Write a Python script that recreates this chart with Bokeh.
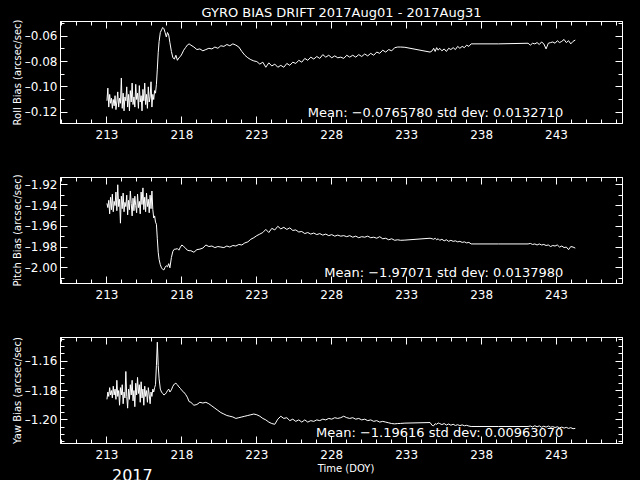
from bokeh.plotting import figure
from bokeh.layouts import column
from bokeh.models import Range1d, LinearAxis, FixedTicker, Label, Title, CustomJSTickFormatter, Div
from bokeh.embed import file_html
from bokeh.resources import INLINE

TITLE = "GYRO BIAS DRIFT 2017Aug01 - 2017Aug31"
YEAR = "2017"
X_LABEL = "Time (DOY)"
X_MAJOR = [213, 218, 223, 228, 233, 238, 243]
X_MINOR = list(range(209, 249))

# common sample times (day of year), shared by the three gyro axes
doy = [
    213.00, 213.06, 213.12, 213.18, 213.24, 213.30, 213.36, 213.42, 213.48, 213.54,
    213.60, 213.66, 213.72, 213.78, 213.84, 213.90, 213.96, 214.02, 214.08, 214.14,
    214.20, 214.26, 214.32, 214.38, 214.44, 214.50, 214.56, 214.62, 214.68, 214.74,
    214.80, 214.86, 214.92, 214.98, 215.04, 215.10, 215.16, 215.22, 215.28, 215.34,
    215.40, 215.46, 215.52, 215.58, 215.64, 215.70, 215.76, 215.82, 215.88, 215.94,
    216.00, 216.06, 216.12, 216.18, 216.24,
    216.30, 216.36, 216.42, 216.48, 216.56, 216.64, 216.72, 216.80, 216.88, 216.96,
    217.04, 217.12, 217.20, 217.30, 217.40, 217.50, 217.60, 217.70, 217.80, 217.90,
    218.00, 218.12, 218.24, 218.36, 218.48,
    218.60, 218.80, 219.00, 219.20, 219.40, 219.60, 219.80, 220.00, 220.20, 220.40,
    220.60, 220.80, 221.00, 221.20, 221.40, 221.60, 221.80, 222.00, 222.20, 222.40,
    222.60, 222.80, 223.00, 223.20, 223.40, 223.60, 223.80, 224.00, 224.20, 224.40,
    224.60, 224.80, 225.00, 225.20, 225.40, 225.60, 225.80, 226.00, 226.20, 226.40,
    226.60, 226.80, 227.00, 227.20, 227.40, 227.60, 227.80, 228.00, 228.20, 228.40,
    228.60, 228.80, 229.00, 229.20, 229.40, 229.60, 229.80, 230.00, 230.20, 230.40,
    230.60, 230.80, 231.00, 231.20, 231.40, 231.60, 231.80, 232.00, 232.20, 232.40,
    232.60,
    232.88,
    234.56, 234.70, 234.80, 234.90, 235.00, 235.10, 235.20, 235.35, 235.50, 235.65,
    235.80, 235.95, 236.10, 236.25, 236.40, 236.55, 236.70, 236.85, 237.00, 237.15,
    237.30,
    239.12,
    241.10, 241.25, 241.40, 241.55, 241.70, 241.85, 242.00, 242.15, 242.30, 242.45,
    242.60, 242.75, 242.90, 243.05, 243.20, 243.35, 243.50, 243.65, 243.80, 243.95,
    244.10, 244.25,
]

ROLL_LABEL = "Roll Bias (arcsec/sec)"
ROLL_MEAN = "Mean: \u22120.0765780 std dev: 0.0132710"
ROLL_MAJOR = [-0.12, -0.10, -0.08, -0.06]
ROLL_MINOR = [-0.13, -0.12, -0.11, -0.10, -0.09, -0.08, -0.07, -0.06, -0.05]
roll_bias = [
    -0.111, -0.101, -0.116, -0.106, -0.113, -0.109, -0.117, -0.110, -0.115, -0.107,
    -0.118, -0.112, -0.104, -0.116, -0.109, -0.113, -0.093, -0.117, -0.105, -0.119,
    -0.108, -0.111, -0.100, -0.116, -0.106, -0.119, -0.103, -0.112, -0.097, -0.114,
    -0.108, -0.116, -0.098, -0.110, -0.105, -0.117, -0.099, -0.112, -0.107, -0.119,
    -0.102, -0.111, -0.097, -0.114, -0.106, -0.117, -0.100, -0.112, -0.108, -0.096,
    -0.116, -0.106, -0.110, -0.103, -0.105,
    -0.098, -0.086, -0.073, -0.064, -0.057, -0.055, -0.053, -0.054, -0.057, -0.0605,
    -0.057, -0.059, -0.065, -0.072, -0.077, -0.078, -0.075, -0.079, -0.077, -0.076,
    -0.074, -0.071, -0.069, -0.067, -0.066,
    -0.067, -0.0685, -0.0705, -0.070, -0.0715, -0.0705, -0.0695, -0.070, -0.0685, -0.0695,
    -0.0675, -0.068, -0.0665, -0.0675, -0.066, -0.067, -0.0685, -0.072, -0.075, -0.077,
    -0.0785, -0.0795, -0.080, -0.082, -0.0805, -0.0845, -0.081, -0.0835, -0.082, -0.0845,
    -0.083, -0.0845, -0.0815, -0.083, -0.0805, -0.0815, -0.079, -0.0805, -0.0775, -0.079,
    -0.0765, -0.078, -0.076, -0.0775, -0.0745, -0.0765, -0.075, -0.077, -0.0755, -0.077,
    -0.0765, -0.0775, -0.075, -0.0765, -0.075, -0.0765, -0.0745, -0.076, -0.074, -0.0755,
    -0.0735, -0.075, -0.0725, -0.0735, -0.071, -0.0725, -0.0705, -0.0715, -0.069, -0.0685,
    -0.0685,
    -0.0687,
    -0.0725, -0.0715, -0.0695, -0.072, -0.069, -0.071, -0.0695, -0.0715, -0.070, -0.072,
    -0.0695, -0.0705, -0.069, -0.0705, -0.068, -0.0695, -0.068, -0.069, -0.067, -0.068,
    -0.066,
    -0.066,
    -0.0655, -0.067, -0.0655, -0.066, -0.065, -0.0665, -0.0645, -0.066, -0.070, -0.0655,
    -0.065, -0.0645, -0.0655, -0.0635, -0.065, -0.064, -0.0625, -0.065, -0.0635, -0.066,
    -0.064, -0.063,
]

PITCH_LABEL = "Pitch Bias (arcsec/sec)"
PITCH_MEAN = "Mean: \u22121.97071 std dev: 0.0137980"
PITCH_MAJOR = [-2.00, -1.98, -1.96, -1.94, -1.92]
PITCH_MINOR = [-2.01, -2.00, -1.99, -1.98, -1.97, -1.96, -1.95, -1.94, -1.93, -1.92, -1.91]
pitch_bias = [
    -1.938, -1.942, -1.935, -1.948, -1.932, -1.944, -1.929, -1.946, -1.936, -1.940,
    -1.927, -1.945, -1.920, -1.941, -1.934, -1.957, -1.931, -1.943, -1.928, -1.946,
    -1.937, -1.941, -1.930, -1.949, -1.935, -1.944, -1.926, -1.938, -1.950, -1.933,
    -1.945, -1.931, -1.940, -1.947, -1.929, -1.942, -1.936, -1.948, -1.927, -1.939,
    -1.923, -1.944, -1.932, -1.946, -1.928, -1.941, -1.934, -1.947, -1.930, -1.943,
    -1.926, -1.944, -1.952, -1.950, -1.956,
    -1.958, -1.972, -1.985, -1.992, -1.997, -2.000, -2.0015, -2.002, -1.9995, -1.998,
    -1.999, -1.996, -2.000, -1.990, -1.984, -1.982, -1.982, -1.9815, -1.983, -1.980,
    -1.978, -1.9795, -1.981, -1.983, -1.9835,
    -1.9835, -1.985, -1.9825, -1.982, -1.981, -1.978, -1.9795, -1.979, -1.9805, -1.9795,
    -1.980, -1.9805, -1.979, -1.980, -1.9785, -1.979, -1.9775, -1.978, -1.976, -1.975,
    -1.9725, -1.971, -1.969, -1.9675, -1.966, -1.963, -1.966, -1.962, -1.9635, -1.960,
    -1.9625, -1.961, -1.963, -1.9615, -1.964, -1.9635, -1.9655, -1.965, -1.967, -1.966,
    -1.9675, -1.9665, -1.968, -1.967, -1.9685, -1.9675, -1.969, -1.968, -1.9695, -1.9685,
    -1.9695, -1.969, -1.970, -1.969, -1.9705, -1.9695, -1.971, -1.970, -1.9705, -1.9695,
    -1.971, -1.9705, -1.9715, -1.970, -1.972, -1.9715, -1.973, -1.972, -1.9735, -1.973,
    -1.9735,
    -1.9733,
    -1.9715, -1.972, -1.9725, -1.9715, -1.973, -1.972, -1.9735, -1.9725, -1.974, -1.973,
    -1.9745, -1.9735, -1.9745, -1.974, -1.975, -1.9745, -1.9755, -1.975, -1.976, -1.9755,
    -1.977,
    -1.977,
    -1.977, -1.9765, -1.9775, -1.977, -1.978, -1.977, -1.978, -1.9775, -1.9785, -1.978,
    -1.9795, -1.9785, -1.979, -1.978, -1.980, -1.979, -1.9805, -1.980, -1.9825, -1.9795,
    -1.980, -1.981,
]

YAW_LABEL = "Yaw Bias (arcsec/sec)"
YAW_MEAN = "Mean: \u22121.19616 std dev: 0.00963070"
YAW_MAJOR = [-1.20, -1.18, -1.16]
YAW_MINOR = [-1.215, -1.210, -1.205, -1.200, -1.195, -1.190, -1.185, -1.180, -1.175,
             -1.170, -1.165, -1.160, -1.155, -1.150, -1.145]
yaw_bias = [
    -1.186, -1.181, -1.184, -1.178, -1.183, -1.180, -1.185, -1.177, -1.183, -1.179,
    -1.186, -1.173, -1.184, -1.180, -1.190, -1.178, -1.183, -1.176, -1.189, -1.181,
    -1.185, -1.167, -1.184, -1.192, -1.179, -1.186, -1.176, -1.183, -1.173, -1.187,
    -1.180, -1.191, -1.175, -1.183, -1.171, -1.182, -1.176, -1.188, -1.174, -1.185,
    -1.179, -1.190, -1.177, -1.184, -1.180, -1.188, -1.178, -1.183, -1.189, -1.181,
    -1.184, -1.179, -1.181, -1.178, -1.176,
    -1.163, -1.147, -1.163, -1.172, -1.179, -1.181, -1.182, -1.183, -1.1825, -1.1815,
    -1.180, -1.179, -1.181, -1.1795, -1.177, -1.1755, -1.175, -1.176, -1.1775, -1.1785,
    -1.180, -1.181, -1.1825, -1.1845, -1.1875,
    -1.188, -1.190, -1.1895, -1.188, -1.1885, -1.188, -1.189, -1.1905, -1.192, -1.1935,
    -1.195, -1.196, -1.197, -1.1975, -1.198, -1.199, -1.1985, -1.198, -1.1975, -1.197,
    -1.1965, -1.196, -1.1965, -1.1975, -1.199, -1.200, -1.2015, -1.2025, -1.2030, -1.1995,
    -1.1975, -1.199, -1.1985, -1.2005, -1.1995, -1.201, -1.200, -1.2015, -1.200, -1.2015,
    -1.2005, -1.201, -1.200, -1.2005, -1.1995, -1.200, -1.199, -1.1995, -1.1985, -1.199,
    -1.1985, -1.1975, -1.1985, -1.199, -1.1985, -1.1995, -1.199, -1.200, -1.1995, -1.2005,
    -1.200, -1.201, -1.2005, -1.2015, -1.201, -1.2015, -1.202, -1.2025, -1.2027, -1.2025,
    -1.2024,
    -1.2022,
    -1.2018, -1.2038, -1.2040, -1.2026, -1.2030, -1.2021, -1.2025, -1.2032, -1.2025, -1.2035,
    -1.2028, -1.2036, -1.2030, -1.2038, -1.2033, -1.2039, -1.2034, -1.2040, -1.2037, -1.2042,
    -1.2045,
    -1.2045,
    -1.2045, -1.2042, -1.2048, -1.2040, -1.2047, -1.2041, -1.2050, -1.2043, -1.2049, -1.2042,
    -1.2050, -1.2046, -1.2052, -1.2047, -1.2054, -1.2049, -1.2056, -1.2051, -1.2058, -1.2053,
    -1.2060, -1.2058,
]

assert len(roll_bias) == len(doy), ("roll", len(roll_bias), len(doy))
assert len(pitch_bias) == len(doy), ("pitch", len(pitch_bias), len(doy))
assert len(yaw_bias) == len(doy), ("yaw", len(yaw_bias), len(doy))

FONT = "DejaVu Sans"
FG = "white"
BG = "black"

fmt = CustomJSTickFormatter(code="return tick.toFixed(2).replace('-', '\u2013');")
blank = CustomJSTickFormatter(code="return '';")


def style_axis(ax, show_labels):
    ax.axis_line_color = FG
    ax.major_tick_line_color = FG
    ax.minor_tick_line_color = FG
    ax.major_tick_in = 7
    ax.major_tick_out = 0
    ax.minor_tick_in = 4
    ax.minor_tick_out = 0
    ax.major_label_text_color = FG
    ax.major_label_text_font = FONT
    ax.axis_label_text_color = FG
    ax.axis_label_text_font = FONT
    ax.axis_label_text_font_style = "normal"
    if not show_labels:
        ax.formatter = blank
        ax.major_label_standoff = 0


def panel(bias, yr, ymaj, ymin, ylabel, mean_text, mean_y, height=160, bottom_border=37):
    p = figure(width=640, height=height, output_backend="svg", toolbar_location=None,
               x_range=Range1d(209.9, 247.4), y_range=Range1d(*yr),
               x_axis_type=None, y_axis_type=None,
               background_fill_color=BG, border_fill_color=BG,
               outline_line_color=FG, min_border_left=60, min_border_right=18,
               min_border_top=17, min_border_bottom=bottom_border)
    p.grid.visible = False
    xt = FixedTicker(ticks=X_MAJOR, minor_ticks=X_MINOR)
    yt = FixedTicker(ticks=ymaj, minor_ticks=ymin)
    xb = LinearAxis(ticker=xt)
    style_axis(xb, True)
    xb.major_label_text_font_size = "12px"
    xb.major_label_standoff = 6
    p.add_layout(xb, "below")
    xa = LinearAxis(ticker=xt)
    style_axis(xa, False)
    p.add_layout(xa, "above")
    yl = LinearAxis(ticker=yt, formatter=fmt, axis_label=ylabel)
    style_axis(yl, True)
    yl.major_label_text_font_size = "12px"
    yl.major_label_standoff = 3
    yl.axis_label_text_font_size = "10px"
    yl.axis_label_standoff = -1
    p.add_layout(yl, "left")
    yr_ax = LinearAxis(ticker=yt)
    style_axis(yr_ax, False)
    p.add_layout(yr_ax, "right")
    p.line(doy, bias, line_color=FG, line_width=1)
    p.add_layout(Label(x=243.45, y=mean_y, text=mean_text, text_align="right",
                       text_baseline="alphabetic", text_color=FG,
                       text_font=FONT, text_font_size="13px"))
    return p


p1 = panel(roll_bias, (-0.129, -0.0483), ROLL_MAJOR, ROLL_MINOR,
           ROLL_LABEL, ROLL_MEAN, -0.1205)
p1.title = Title(text=TITLE, align="center", text_color=FG, text_font=FONT,
                 text_font_size="13px", text_font_style="normal", standoff=4)
p2 = panel(pitch_bias, (-2.0151, -1.913), PITCH_MAJOR, PITCH_MINOR,
           PITCH_LABEL, PITCH_MEAN, -2.0043)
p3 = panel(yaw_bias, (-1.2161, -1.1438), YAW_MAJOR, YAW_MINOR,
           YAW_LABEL, YAW_MEAN, -1.2084, height=143, bottom_border=20)

footer = Div(
    text=(
        "<div style=\"position:relative;width:640px;height:17px;"
        "font-family:'DejaVu Sans';color:#fff;\">"
        "<span style=\"position:absolute;left:60px;width:562px;top:-4px;"
        "font-size:10px;line-height:10px;text-align:center;white-space:nowrap;\">"
        + X_LABEL + "</span>"
        "<span style=\"position:absolute;left:107px;top:0px;"
        "font-size:16px;line-height:16px;white-space:nowrap;\">"
        + YEAR + "</span></div>"
    ),
    width=640, height=17, styles={"background-color": BG, "overflow": "visible"},
)

layout = column(p1, p2, p3, footer, spacing=0, background=BG)
html = file_html(layout, INLINE)
html = html.replace("</head>", "<style>html,body{margin:0;padding:0;background:#000;overflow:hidden;}</style></head>")
open("out.html", "w").write(html)
